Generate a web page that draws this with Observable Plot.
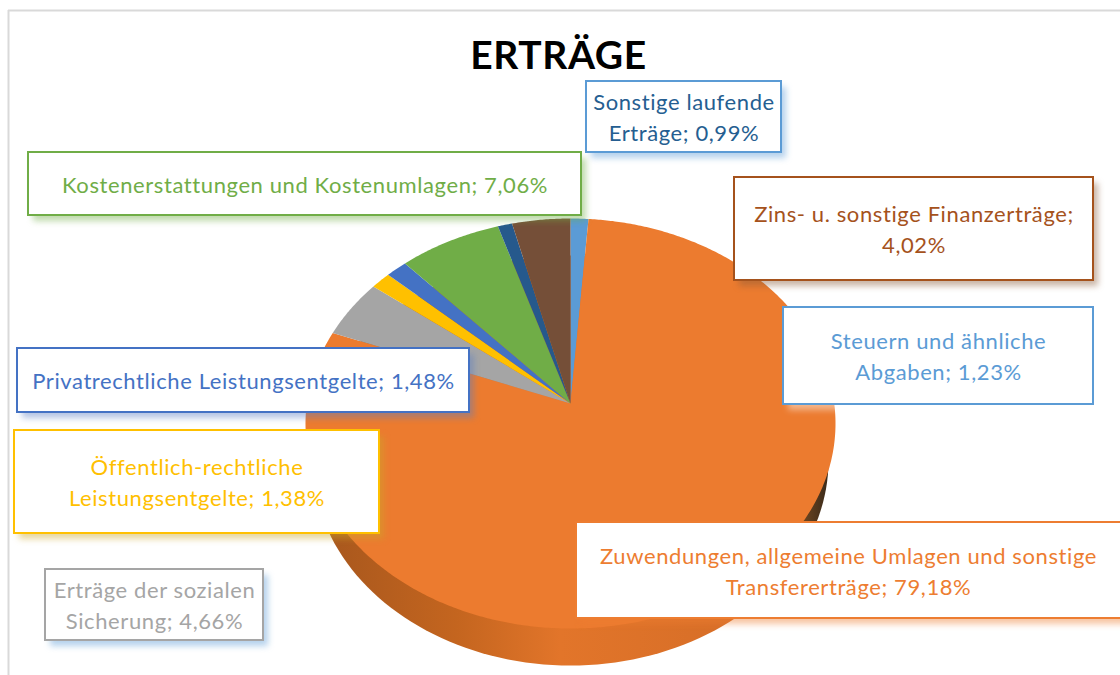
<!DOCTYPE html>
<html lang="de">
<head>
<meta charset="utf-8">
<script src="https://cdn.jsdelivr.net/npm/d3@7"></script>
<script src="https://cdn.jsdelivr.net/npm/@observablehq/plot@0.6"></script>
<style>
html,body{margin:0;padding:0;background:#fff;overflow:hidden}
svg{display:block}
svg text{letter-spacing:.6px}
</style>
</head>
<body>
<div id="chart"></div>
<script>
const titleText = "ERTRÄGE";
const names = [
  "Steuern und ähnliche Abgaben",
  "Zuwendungen, allgemeine Umlagen und sonstige Transfererträge",
  "Erträge der sozialen Sicherung",
  "Öffentlich-rechtliche Leistungsentgelte",
  "Privatrechtliche Leistungsentgelte",
  "Kostenerstattungen und Kostenumlagen",
  "Sonstige laufende Erträge",
  "Zins- u. sonstige Finanzerträge"
];
const shares = [1.23, 79.18, 4.66, 1.38, 1.48, 7.06, 0.99, 4.02];
const sliceColors = ["#5b9bd5", "#ec7b2f", "#a5a5a5", "#ffc000", "#4472c4", "#70ad47", "#26598c", "#754f38"];
const labelLines = [
  "Steuern und ähnliche\nAbgaben; 1,23%",
  "Zuwendungen, allgemeine Umlagen und sonstige\nTransfererträge; 79,18%",
  "Erträge der sozialen\nSicherung; 4,66%",
  "Öffentlich-rechtliche\nLeistungsentgelte; 1,38%",
  "Privatrechtliche Leistungsentgelte; 1,48%",
  "Kostenerstattungen und Kostenumlagen; 7,06%",
  "Sonstige laufende\nErträge; 0,99%",
  "Zins- u. sonstige Finanzerträge;\n4,02%"
];
const textColors = ["#5b9bd5", "#ed7d31", "#a5a5a5", "#ffc000", "#4472c4", "#70ad47", "#255e91", "#a5521c"];
const borderColors = ["#5b9bd5", "#ed7d31", "#a5a5a5", "#ffc000", "#4472c4", "#70ad47", "#5b9bd5", "#a5521c"];
const shadowColors = ["#ffffff", "#ed7d31", "#5b9bd5", "#c9a62a", "#5b7fc4", "#70ad47", "#5b9bd5", "#8a5a3a"];

// Label boxes: left, top, right, bottom of each box, in the order of names
const boxLayout = [
  [783, 307, 1093, 404],
  [576, 522, 1125, 618],
  [45, 569, 263, 640],
  [14, 430, 379, 533],
  [17, 348, 469, 412],
  [28, 152, 581, 215],
  [586, 81, 781, 152],
  [734, 177, 1093, 280]
];

// Tilted pie geometry, in page pixels
const pie = {cx: 570, cy: 423, rx: 265, ry: 205, apexY: 403, tilt: 0.88, sideCy: 460, sideRx: 258};

const rad = Math.PI / 180;
const project = (deg) => 2 * Math.atan(pie.tilt * Math.tan(deg * rad / 2));
const rim = (deg) => {
  const t = project(deg);
  return {x: pie.cx + pie.rx * Math.sin(t), y: pie.cy - pie.ry * Math.cos(t)};
};

const total = d3.sum(shares);
let acc = 0;
const slicePoints = [];
names.forEach((name, i) => {
  const a0 = acc / total * 360;
  acc += shares[i];
  const a1 = acc / total * 360;
  const color = sliceColors[i];
  slicePoints.push({name, color, x: pie.cx, y: pie.apexY});
  const n = Math.max(2, Math.ceil((a1 - a0) * 2));
  for (let k = 0; k <= n; ++k) {
    let a = a0 + (a1 - a0) * k / n;
    if (a > 180) a -= 360;
    slicePoints.push({name, color, ...rim(a)});
  }
  slicePoints.push({name, color, x: pie.cx, y: pie.apexY});
});

const sidePoints = d3.range(0, 361, 2).map((a) => ({
  x: pie.cx + pie.sideRx * Math.sin(a * rad),
  y: pie.sideCy - pie.ry * Math.cos(a * rad)
}));

const boxes = names.map((name, i) => ({
  name,
  x1: boxLayout[i][0], y1: boxLayout[i][1], x2: boxLayout[i][2], y2: boxLayout[i][3],
  cx: (boxLayout[i][0] + Math.min(boxLayout[i][2], 1120)) / 2,
  cy: (boxLayout[i][1] + boxLayout[i][3]) / 2,
  label: labelLines[i],
  text: textColors[i], border: borderColors[i], shadow: shadowColors[i]
}));
boxes[1].cx = 848;

const plot = Plot.plot({
  width: 1120, height: 675,
  margin: 0,
  style: {fontFamily: "Lato, 'Open Sans', sans-serif", background: "#fff"},
  x: {domain: [0, 1120], range: [0, 1120], axis: null},
  y: {domain: [0, 675], range: [0, 675], axis: null},
  color: {type: "identity"},
  marks: [
    () => {
      const defs = d3.create("svg:defs");
      const g = defs.append("linearGradient").attr("id", "pieSide");
      [[0, "#a5561d"], [0.28, "#c4651f"], [0.48, "#e2752a"], [0.88, "#d56d27"], [0.95, "#6d4520"], [1, "#3a2a1a"]]
        .forEach(([o, c]) => g.append("stop").attr("offset", o).attr("stop-color", c));
      return defs.node();
    },
    Plot.ruleY([10], {x1: 8, x2: 1120, stroke: "#d9d9d9", strokeWidth: 2}),
    Plot.ruleX([8], {y1: 10, y2: 675, stroke: "#d9d9d9", strokeWidth: 2}),
    Plot.line(sidePoints, {x: "x", y: "y", fill: "url(#pieSide)", stroke: "none"}),
    Plot.line(slicePoints, {x: "x", y: "y", z: "name", fill: "color", stroke: "none"}),
    Plot.rect(boxes, {x1: "x1", y1: "y1", x2: "x2", y2: "y2", dx: 5, dy: 6, fill: "shadow", fillOpacity: 0.45, imageFilter: "blur(3px)"}),
    Plot.rect(boxes, {x1: "x1", y1: "y1", x2: "x2", y2: "y2", fill: "#fff", stroke: "border", strokeWidth: 2}),
    Plot.text(boxes, {x: "cx", y: "cy", dy: -1, text: "label", fill: "text", fontSize: 22, lineHeight: 1.4, textAnchor: "middle"}),
    Plot.text([titleText], {x: 558, y: 56, text: (d) => d, fontSize: 39, fontWeight: 700, fill: "#000", textAnchor: "middle"})
  ]
});
document.getElementById("chart").append(plot);
</script>
</body>
</html>
